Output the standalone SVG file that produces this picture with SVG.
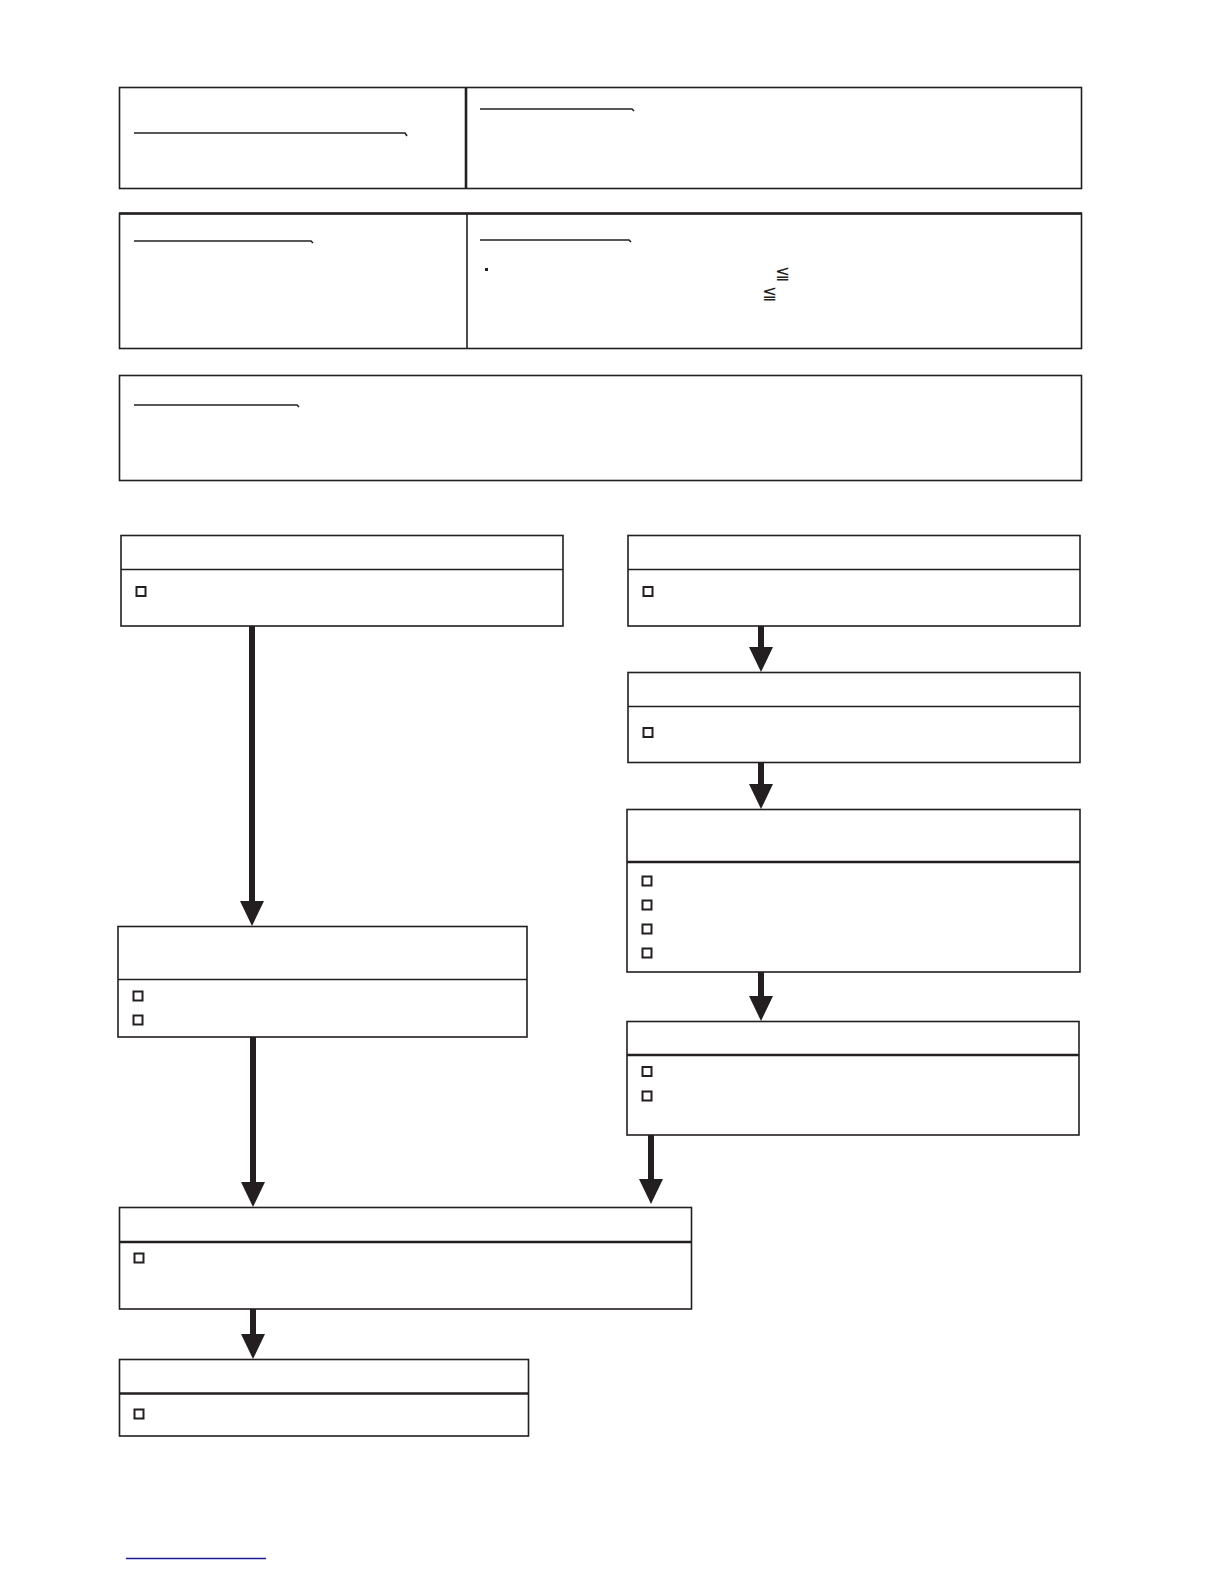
<svg xmlns="http://www.w3.org/2000/svg" width="1224" height="1584" viewBox="0 0 1224 1584">
<style>
.box{fill:#fff;stroke:#231f20;stroke-width:1.6}
.div{stroke:#231f20;stroke-width:1.6;fill:none}
.divb{stroke:#231f20;stroke-width:2.6;fill:none}
.ul{stroke:#231f20;stroke-width:1.6;fill:none}
.cb{fill:#fff;stroke:#231f20;stroke-width:2}
.shaft{stroke:#231f20;stroke-width:6;fill:none}
.sym{font-family:"DejaVu Sans","Liberation Sans",sans-serif;font-size:18px;fill:#231f20}
</style>
<defs>
<marker id="ah" markerUnits="userSpaceOnUse" markerWidth="26" markerHeight="26" refX="0" refY="12" orient="auto" overflow="visible">
<path d="M0 0 L25 12 L0 24 Z" fill="#231f20"/>
</marker>
</defs>
<rect width="1224" height="1584" fill="#fff"/>

<g id="panel1">
<rect class="box" x="119.5" y="87.5" width="962" height="101"/>
<line class="divb" x1="466" y1="87" x2="466" y2="188"/>
<path class="ul" d="M134 133 H405 l2 3"/>
<path class="ul" d="M480 109 H632 l2 2"/>
</g>

<g id="panel2">
<rect class="box" x="119.5" y="213.5" width="962" height="135"/>
<line class="div" x1="119" y1="213.5" x2="1082" y2="213.5" style="stroke-width:2.4"/>
<line class="div" x1="467" y1="213" x2="467" y2="349"/>
<path class="ul" d="M134 241 H311 l2 2"/>
<path class="ul" d="M480 240 H629 l2 2"/>
<rect x="485" y="268" width="3" height="3" fill="#231f20"/>
<text class="sym" x="775" y="279">≦</text>
<text class="sym" x="762" y="299">≦</text>
</g>

<g id="panel3">
<rect class="box" x="119.5" y="375.5" width="962" height="105"/>
<path class="ul" d="M134 405 H297 l2 2"/>
</g>

<g id="connectors">
<line class="shaft" x1="252" y1="626" x2="252" y2="901" marker-end="url(#ah)"/>
<line class="shaft" x1="761" y1="626" x2="761" y2="647" marker-end="url(#ah)"/>
<line class="shaft" x1="761" y1="762" x2="761" y2="784" marker-end="url(#ah)"/>
<line class="shaft" x1="761" y1="972" x2="761" y2="996" marker-end="url(#ah)"/>
<line class="shaft" x1="253" y1="1037" x2="253" y2="1182" marker-end="url(#ah)"/>
<line class="shaft" x1="651" y1="1135" x2="651" y2="1179" marker-end="url(#ah)"/>
<line class="shaft" x1="253" y1="1309" x2="253" y2="1334" marker-end="url(#ah)"/>
</g>

<g id="nodeA">
<rect class="box" x="121" y="535.5" width="442" height="90.5"/>
<line class="div" x1="121" y1="569.5" x2="563" y2="569.5"/>
<rect class="cb" x="136.5" y="587" width="9" height="9"/>
</g>

<g id="nodeB">
<rect class="box" x="628" y="535.5" width="452" height="90.5"/>
<line class="div" x1="628" y1="569.5" x2="1080" y2="569.5"/>
<rect class="cb" x="643.5" y="587" width="9" height="9"/>
</g>

<g id="nodeC">
<rect class="box" x="628" y="672.5" width="452" height="90"/>
<line class="div" x1="628" y1="706.5" x2="1080" y2="706.5"/>
<rect class="cb" x="643.5" y="728" width="9" height="9"/>
</g>

<g id="nodeD">
<rect class="box" x="627" y="809.5" width="453" height="162.5"/>
<line class="divb" x1="627" y1="862" x2="1080" y2="862"/>
<rect class="cb" x="642.5" y="876.5" width="9" height="9"/>
<rect class="cb" x="642.5" y="900.5" width="9" height="9"/>
<rect class="cb" x="642.5" y="924.5" width="9" height="9"/>
<rect class="cb" x="642.5" y="948.5" width="9" height="9"/>
</g>

<g id="nodeE">
<rect class="box" x="118" y="926.5" width="409" height="110.5"/>
<line class="div" x1="118" y1="979.5" x2="527" y2="979.5"/>
<rect class="cb" x="133.5" y="991.5" width="9" height="9"/>
<rect class="cb" x="133.5" y="1015.5" width="9" height="9"/>
</g>

<g id="nodeF">
<rect class="box" x="627" y="1021.5" width="452" height="113.5"/>
<line class="divb" x1="627" y1="1055" x2="1079" y2="1055"/>
<rect class="cb" x="642.5" y="1067" width="9" height="9"/>
<rect class="cb" x="642.5" y="1091.5" width="9" height="9"/>
</g>

<g id="nodeG">
<rect class="box" x="119.5" y="1207.5" width="572" height="101.5"/>
<line class="divb" x1="119" y1="1242" x2="691" y2="1242"/>
<rect class="cb" x="134.5" y="1253.5" width="9" height="9"/>
</g>

<g id="nodeH">
<rect class="box" x="119.5" y="1359.5" width="409" height="76.5"/>
<line class="divb" x1="119" y1="1393.5" x2="528" y2="1393.5"/>
<rect class="cb" x="134.5" y="1409.5" width="9" height="9"/>
</g>

<line x1="126" y1="1558.5" x2="266" y2="1558.5" stroke="#1c1c96" stroke-width="1.5"/>
</svg>
